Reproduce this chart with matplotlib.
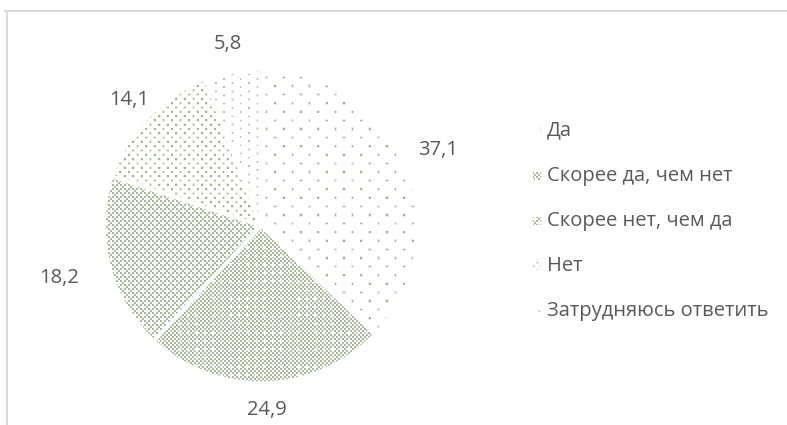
import numpy as np
import matplotlib
matplotlib.use("Agg")
import matplotlib.pyplot as plt
from matplotlib.patches import Rectangle

categories = ["Да", "Скорее да, чем нет", "Скорее нет, чем да", "Нет", "Затрудняюсь ответить"]
values = [37.1, 24.9, 18.2, 14.1, 5.8]
value_labels = ["37,1", "24,9", "18,2", "14,1", "5,8"]

W, H = 787, 425
GREEN = np.array([0x93, 0xa9, 0x7f]) / 255.0
TEXT = "#595959"
plt.rcParams["font.family"] = ["Open Sans", "DejaVu Sans"]

yy, xx = np.mgrid[0:H, 0:W] + 0.5


def dot_layer(px, py, core_r, halo):
    # staggered dot lattice: small darker core, lighter ring around it
    row = np.round(yy / py)
    dist_y = np.abs(yy - row * py)
    shift = (row % 2) * px / 2
    col = np.round((xx - shift) / px)
    dist_x = np.abs(xx - shift - col * px)
    core = (dist_x < core_r) & (dist_y < core_r)
    ring = (dist_x < core_r + halo) & (dist_y < core_r + halo) & ~core
    return core * 1.0 + ring * 0.25


def checker_layer(kind):
    a = (xx // 2).astype(int)
    b = (yy // 2).astype(int)
    m = (a + b) % 2 == 0
    if kind == "sparse":
        m &= ~((a % 2 == 1) & ((a // 2 + b // 2) % 2 == 1))
    else:
        m &= ~(((xx % 8.5) < 2.5) & ((yy % 8.5) < 2.5))
    return m * 1.0


def to_rgba(alpha_map, alpha):
    img = np.zeros((H, W, 4))
    img[..., :3] = GREEN
    img[..., 3] = np.clip(alpha_map * alpha, 0, 1)
    return img


patterns = [
    to_rgba(dot_layer(17.2, 8.6, 0.8, 0.8), 0.85),
    to_rgba(checker_layer("dense"), 0.8),
    to_rgba(checker_layer("sparse"), 0.8),
    to_rgba(dot_layer(8.6, 4.3, 0.9, 0.6), 0.85),
    to_rgba(dot_layer(16.6, 4.15, 0.7, 0.5), 0.7),
]

fig = plt.figure(figsize=(W / 100, H / 100), dpi=100)
ax = fig.add_axes([0, 0, 1, 1])

cx, cy, r = 261, H - 226, 157
wedges, _ = ax.pie(values, startangle=90, counterclock=False, center=(cx, cy),
                   radius=r, wedgeprops=dict(facecolor="none", edgecolor="white", linewidth=2.5))

for w, img in zip(wedges, patterns):
    w.set_zorder(3)
    im = ax.imshow(img, extent=(0, W, 0, H), origin="upper", interpolation="nearest", zorder=2)
    im.set_clip_path(w)

# value labels
label_dist = [1.23, 1.17, 1.33, 1.16, 1.18]
for w, lab, d in zip(wedges, value_labels, label_dist):
    ang = np.deg2rad((w.theta1 + w.theta2) / 2)
    ax.text(cx + d * r * np.cos(ang), cy + d * r * np.sin(ang), lab, ha="center", va="center",
            fontsize=14.5, color=TEXT, zorder=5)

# legend
leg_y = [130, 176, 221, 266, 311]
for img, name, y in zip(patterns, categories, leg_y):
    sq = Rectangle((533, H - y - 4), 8, 8, facecolor="none", edgecolor="none")
    ax.add_patch(sq)
    im = ax.imshow(img, extent=(0, W, 0, H), origin="upper", interpolation="nearest", zorder=2)
    im.set_clip_path(sq)
    ax.text(547, H - y, name, ha="left", va="center", fontsize=14.5, color=TEXT, zorder=5)

ax.set_xlim(0, W)
ax.set_ylim(0, H)
ax.set_aspect("auto")
ax.axis("off")

# chart frame
fig.add_artist(plt.Line2D([5 / W, 1], [1 - 11 / H, 1 - 11 / H], color="#d9d9d9", lw=1.5))
fig.add_artist(plt.Line2D([7 / W, 7 / W], [0, 1 - 11 / H], color="#d9d9d9", lw=1.5))

fig.savefig("out.png", dpi=100)
